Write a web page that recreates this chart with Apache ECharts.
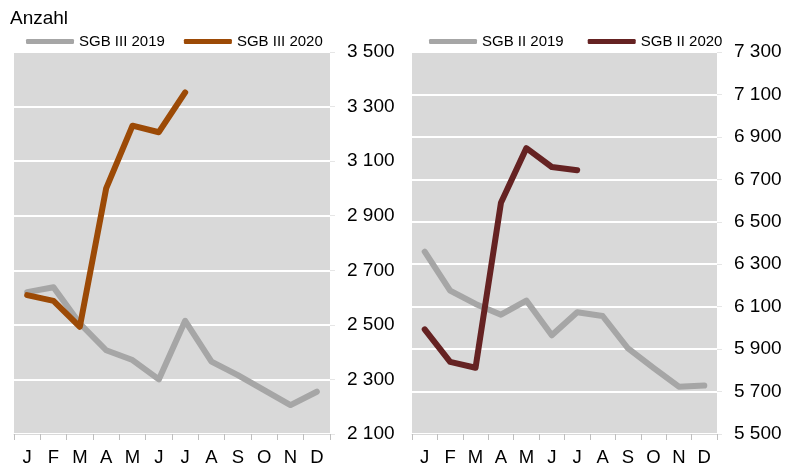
<!DOCTYPE html>
<html>
<head>
<meta charset="utf-8">
<script src="https://cdn.jsdelivr.net/npm/echarts@6/dist/echarts.min.js"></script>
<style>
html,body{margin:0;padding:0;background:#fff;}
#chart{width:789px;height:467px;}
</style>
</head>
<body>
<div id="chart"></div>
<script>
// Monate
var months = ['J', 'F', 'M', 'A', 'M', 'J', 'J', 'A', 'S', 'O', 'N', 'D'];
// SGB III (linke Skala)
var sgb3_2019 = [2620, 2638, 2505, 2407, 2371, 2300, 2515, 2365, 2316, 2261, 2206, 2255];
var sgb3_2020 = [2609, 2588, 2493, 3000, 3230, 3206, 3352];
// SGB II (rechte Skala)
var sgb2_2019 = [6359, 6176, 6113, 6062, 6129, 5965, 6074, 6056, 5903, 5812, 5723, 5728];
var sgb2_2020 = [5993, 5840, 5812, 6590, 6847, 6758, 6743];

var fontName = 'Liberation Sans';
function fmt(v) {
    return String(v).replace(/\B(?=(\d{3})+(?!\d))/g, ' ');
}

function xAx(gi) {
    return {
        type: 'category',
        gridIndex: gi,
        data: months,
        boundaryGap: true,
        axisLine: { show: true, lineStyle: { color: '#d9d9d9', width: 1 } },
        axisTick: { show: true, length: 6, lineStyle: { color: '#bfbfbf' } },
        axisLabel: { color: '#000', fontSize: 18.5, fontFamily: fontName, margin: 14, interval: 0 }
    };
}
function yAx(gi, min, max) {
    return {
        type: 'value',
        gridIndex: gi,
        position: 'right',
        min: min,
        max: max,
        interval: 200,
        axisLine: { show: false },
        axisTick: { show: true, length: 5, lineStyle: { color: '#e6e6e6' } },
        splitLine: { show: true, lineStyle: { color: '#ffffff', width: 2 } },
        axisLabel: { color: '#000', fontSize: 19, fontFamily: fontName, margin: 17, formatter: fmt }
    };
}
function lineS(name, xi, data, color) {
    return {
        name: name,
        type: 'line',
        xAxisIndex: xi,
        yAxisIndex: xi,
        data: data,
        symbol: 'none',
        smooth: false,
        lineStyle: { color: color, width: 6, cap: 'round', join: 'round' },
        itemStyle: { color: color },
        emphasis: { disabled: true }
    };
}
function legendAt(left, gap, names) {
    return {
        left: left,
        top: 29,
        data: names,
        icon: 'roundRect',
        itemWidth: 48,
        itemHeight: 5,
        itemGap: gap,
        textStyle: { color: '#000', fontSize: 15, fontFamily: fontName }
    };
}

var chart = echarts.init(document.getElementById('chart'));
var option = {
    animation: false,
    title: {
        text: 'Anzahl',
        left: 5,
        top: 4,
        textStyle: { color: '#000', fontSize: 19, fontWeight: 'normal', fontFamily: fontName }
    },
    legend: [
        legendAt(21, 19, ['SGB III 2019', 'SGB III 2020']),
        legendAt(424, 24, ['SGB II 2019', 'SGB II 2020'])
    ],
    grid: [
        { left: 14, right: 459, top: 52, bottom: 33, show: true, backgroundColor: '#d9d9d9', borderWidth: 0 },
        { left: 412, right: 72, top: 52, bottom: 33, show: true, backgroundColor: '#d9d9d9', borderWidth: 0 }
    ],
    xAxis: [xAx(0), xAx(1)],
    yAxis: [yAx(0, 2100, 3500), yAx(1, 5500, 7300)],
    series: [
        lineS('SGB III 2019', 0, sgb3_2019, '#a6a6a6'),
        lineS('SGB III 2020', 0, sgb3_2020, '#9c4a06'),
        lineS('SGB II 2019', 1, sgb2_2019, '#a6a6a6'),
        lineS('SGB II 2020', 1, sgb2_2020, '#652222')
    ]
};
chart.setOption(option);
</script>
</body>
</html>
